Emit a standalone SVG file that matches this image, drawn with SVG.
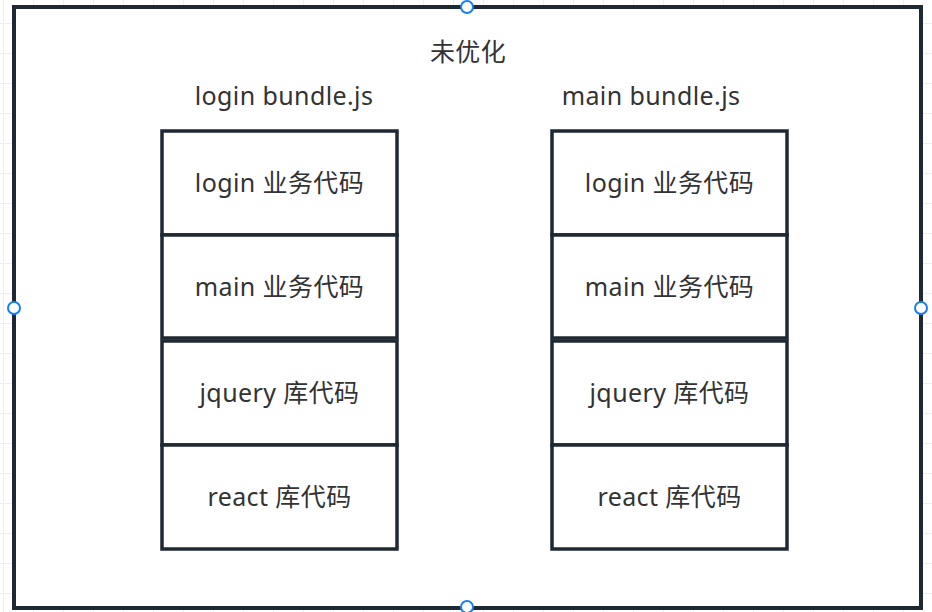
<svg xmlns="http://www.w3.org/2000/svg" width="932" height="612" viewBox="0 0 932 612">
<defs>
<pattern id="grid" x="3" y="23" width="30" height="30" patternUnits="userSpaceOnUse">
<path d="M0 0H30M0 0V30" fill="none" stroke="#efefef" stroke-width="2"/>
</pattern>
</defs>
<style>
.frame{fill:#fff;stroke:#1f2933;stroke-width:4}
.cell{fill:#fff;stroke:#1f2933;stroke-width:3.5}
.t{font-family:"Noto Sans","Noto Sans CJK SC",sans-serif;font-size:25px;letter-spacing:0.4px;fill:#333;text-anchor:middle}
.h{fill:#fff;stroke:#1a7ef5;stroke-width:2}
</style>
<rect width="932" height="612" fill="#fff"/>
<rect width="932" height="612" fill="url(#grid)"/>
<g id="frame">
<rect class="frame" x="14" y="7" width="907" height="601"/>
<text class="t" x="468" y="61">未优化</text>
</g>
<g id="login-bundle">
<text class="t" x="284" y="105">login bundle.js</text>
<g id="l1"><rect class="cell" x="162" y="131" width="235" height="104"/><text class="t" x="279.5" y="192">login 业务代码</text></g>
<g id="l2"><rect class="cell" x="162" y="235" width="235" height="103"/><text class="t" x="279.5" y="296">main 业务代码</text></g>
<g id="l3"><rect class="cell" x="162" y="341" width="235" height="104"/><text class="t" x="279.5" y="402">jquery 库代码</text></g>
<g id="l4"><rect class="cell" x="162" y="445" width="235" height="104"/><text class="t" x="279.5" y="506">react 库代码</text></g>
</g>
<g id="main-bundle">
<text class="t" x="651" y="105">main bundle.js</text>
<g id="m1"><rect class="cell" x="552" y="131" width="235" height="104"/><text class="t" x="669.5" y="192">login 业务代码</text></g>
<g id="m2"><rect class="cell" x="552" y="235" width="235" height="103"/><text class="t" x="669.5" y="296">main 业务代码</text></g>
<g id="m3"><rect class="cell" x="552" y="341" width="235" height="104"/><text class="t" x="669.5" y="402">jquery 库代码</text></g>
<g id="m4"><rect class="cell" x="552" y="445" width="235" height="104"/><text class="t" x="669.5" y="506">react 库代码</text></g>
</g>
<g id="handles">
<circle class="h" cx="467" cy="7" r="6"/>
<circle class="h" cx="14" cy="308" r="6"/>
<circle class="h" cx="921" cy="308" r="6"/>
<circle class="h" cx="467" cy="607" r="6"/>
</g>
<g id="connectors"/>
</svg>
